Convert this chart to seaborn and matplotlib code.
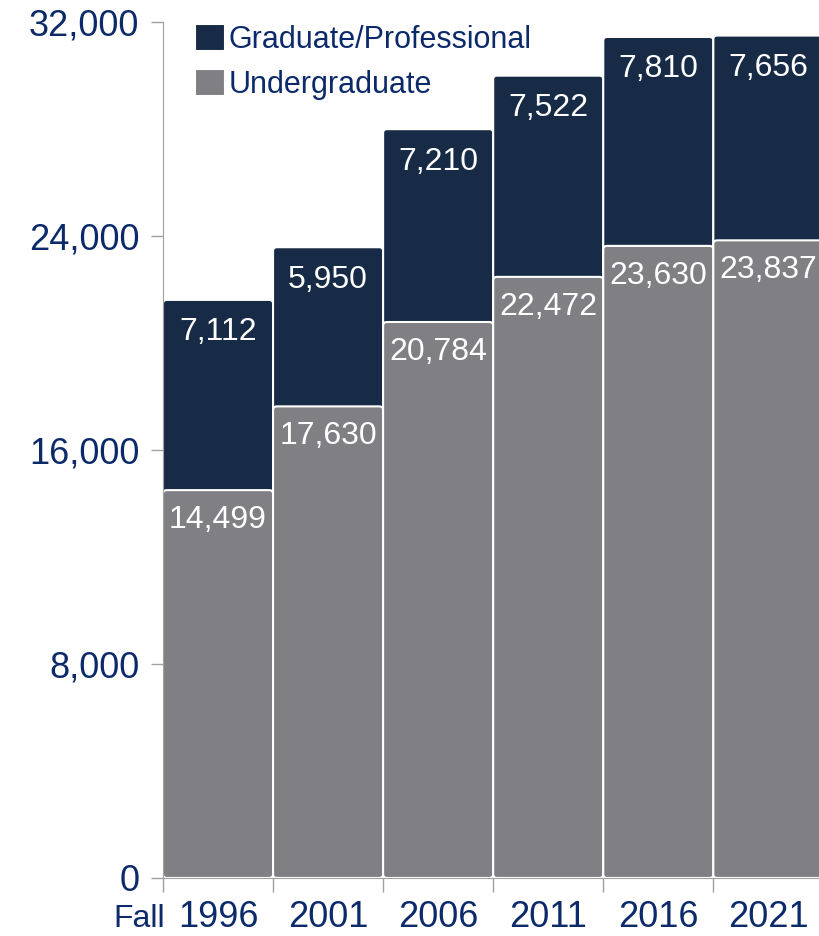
import seaborn as sns
import matplotlib.pyplot as plt
import matplotlib.transforms as mtransforms
from matplotlib.patches import FancyBboxPatch
import pandas as pd

years = ["1996", "2001", "2006", "2011", "2016", "2021"]
undergrad = [14499, 17630, 20784, 22472, 23630, 23837]
grad = [7112, 5950, 7210, 7522, 7810, 7656]

navy = "#172b47"
gray = "#7f7f84"
text_blue = "#0c2a6a"

df = pd.DataFrame({"year": years, "Undergraduate": undergrad, "Graduate/Professional": grad})
df["total"] = df["Undergraduate"] + df["Graduate/Professional"]

sns.set_style("white")
plt.rcParams["font.family"] = ["Liberation Sans", "DejaVu Sans"]

fig = plt.figure(figsize=(8.19, 9.36), dpi=100)
ax = fig.add_axes([0.199, 0.062, 0.801, 0.9145])

sns.barplot(data=df, x="year", y="total", color=navy, width=1.0, saturation=1,
            edgecolor="white", linewidth=1.5, ax=ax, label="Graduate/Professional")
sns.barplot(data=df, x="year", y="Undergraduate", color=gray, width=1.0, saturation=1,
            edgecolor="white", linewidth=1.5, ax=ax, label="Undergraduate")

ax.set_xlim(-0.5, 5.46)
ax.set_ylim(0, 32000)
ax.set_yticks([0, 8000, 16000, 24000, 32000])
ax.set_yticklabels([f"{v:,}" for v in [0, 8000, 16000, 24000, 32000]])
ax.set_xlabel("")
ax.set_ylabel("")

# tick marks between categories, labels centered
ax.set_xticks([i - 0.5 for i in range(6)], minor=True)
ax.tick_params(axis="x", which="minor", length=10, color="#a0a0a0", width=1, bottom=True)
ax.tick_params(axis="x", which="major", length=0, labelsize=26, labelcolor=text_blue, pad=16)
ax.tick_params(axis="y", length=9, color="#a0a0a0", width=1, labelsize=26,
               labelcolor=text_blue, pad=8, left=True)

for s in ["top", "right"]:
    ax.spines[s].set_visible(False)
ax.spines["left"].set_color("#a0a0a0")
ax.spines["bottom"].set_color("#a0a0a0")

trans = mtransforms.blended_transform_factory(ax.transData, ax.transAxes)
ax.text(-0.48, -0.03, "Fall", transform=trans, ha="right", va="top",
        fontsize=23, color=text_blue)

# value labels
for i in range(len(years)):
    ax.text(i, df["total"][i] - 650, f"{grad[i]:,}", ha="center", va="top",
            fontsize=23, color="white")
    ax.text(i, undergrad[i] - 550, f"{undergrad[i]:,}", ha="center", va="top",
            fontsize=23, color="white")

handles, labels = ax.get_legend_handles_labels()
leg = ax.legend(handles, labels, loc="upper left", bbox_to_anchor=(0.03, 1.012),
                frameon=False, fontsize=22, handlelength=1.0, handleheight=1.0,
                handletextpad=0.1, labelspacing=0.45, borderaxespad=0)
for t in leg.get_texts():
    t.set_color(text_blue)

# rounded bar corners
rx = 0.035
aspect = (32000 / 856) * 110.5
for p in list(ax.patches):
    fb = FancyBboxPatch((p.get_x(), p.get_y()), p.get_width(), p.get_height(),
                        boxstyle=f"round,pad=0,rounding_size={rx}",
                        mutation_aspect=aspect, facecolor=p.get_facecolor(),
                        edgecolor="white", linewidth=1.5, zorder=p.get_zorder())
    p.remove()
    ax.add_patch(fb)

fig.savefig("out.png", dpi=100)
